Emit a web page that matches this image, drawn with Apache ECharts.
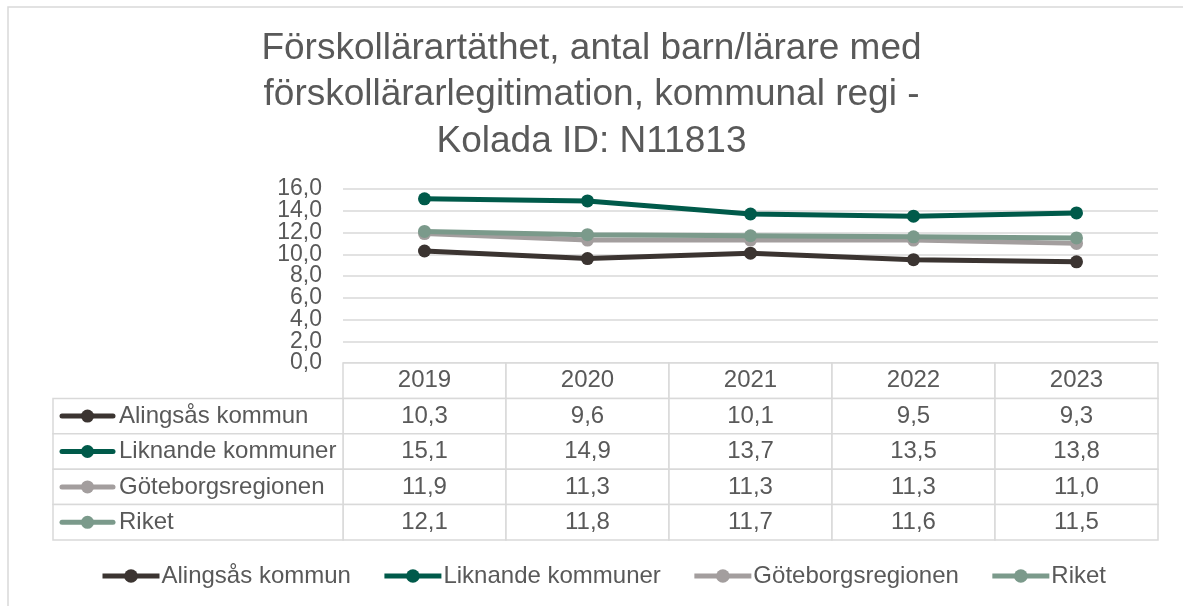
<!DOCTYPE html>
<html>
<head>
<meta charset="utf-8">
<script src="https://cdn.jsdelivr.net/npm/echarts@6/dist/echarts.min.js"></script>
<style>
html, body { margin: 0; padding: 0; background: #fff; }
#main { width: 1183px; height: 606px; }
</style>
</head>
<body>
<div id="main"></div>
<script>
// data
var years = ['2019', '2020', '2021', '2022', '2023'];
var seriesNames = ['Alingsås kommun', 'Liknande kommuner', 'Göteborgsregionen', 'Riket'];
var alingsas = [10.3, 9.6, 10.1, 9.5, 9.3];
var liknande = [15.1, 14.9, 13.7, 13.5, 13.8];
var goteborg = [11.9, 11.3, 11.3, 11.3, 11.0];
var riket = [12.1, 11.8, 11.7, 11.6, 11.5];
var yMin = 0, yMax = 16, yStep = 2;

var colors = ['#3B3431', '#005A4A', '#A39E9E', '#7B9A8B'];
var allValues = [alingsas, liknande, goteborg, riket];
var textColor = '#595959';
var lineColor = '#D9D9D9';
var fontFamily = '"Liberation Sans", Arial, sans-serif';
var font = '24px ' + fontFamily;
var labelWidth = 290;

function fmt(v) { return v.toFixed(1).replace('.', ','); }

var myChart = echarts.init(document.getElementById('main'));

// tabellens celler: [kolumn, rad]
var headerCells = years.map(function (y, i) { return [i, 0]; });
var valueCells = [];
var valueTexts = [];
allValues.forEach(function (arr, r) {
    arr.forEach(function (v, c) {
        valueCells.push([c, r + 1]);
        valueTexts.push(fmt(v));
    });
});
var labelCells = seriesNames.map(function (n, r) { return [0, r + 1]; });

function cell(api, text) {
    var c = api.coord([api.value(0), api.value(1)]);
    var s = api.size([1, 1]);
    return {
        type: 'group',
        children: [
            { type: 'rect', shape: { x: c[0] - s[0] / 2, y: c[1] - s[1] / 2, width: s[0], height: s[1] },
              style: { fill: '#fff', stroke: lineColor, lineWidth: 1.5 } },
            { type: 'text', x: c[0], y: c[1],
              style: { text: text, font: font, fill: textColor, align: 'center', verticalAlign: 'middle' } }
        ]
    };
}

var lineSeries = seriesNames.map(function (name, i) {
    return {
        name: name,
        type: 'line',
        data: allValues[i],
        symbol: 'circle',
        symbolSize: 13,
        color: colors[i],
        lineStyle: { width: 5, color: colors[i] },
        itemStyle: { color: colors[i] },
        z: 3 + i
    };
});

// etiketterna ligger tätt, så varannan etikett ritas av en andra y-axel
var labelStyle = { fontFamily: fontFamily, fontSize: 23, color: textColor, margin: 21 };

var option = {
    animation: false,
    backgroundColor: '#fff',
    title: {
        text: 'Förskollärartäthet, antal barn/lärare med\nförskollärarlegitimation, kommunal regi -\nKolada ID: N11813',
        left: 'center',
        top: 25,
        padding: [0, 0, 0, 11],
        textStyle: { fontFamily: fontFamily, fontSize: 37, fontWeight: 'normal', color: textColor, lineHeight: 46.6 }
    },
    graphic: [{
        type: 'rect',
        shape: { x: 8, y: 7, width: 1200, height: 700 },
        style: { fill: 'none', stroke: lineColor, lineWidth: 1.5 },
        silent: true
    }],
    legend: {
        data: seriesNames,
        bottom: 13,
        left: 95,
        padding: 5,
        itemWidth: 57,
        itemHeight: 17,
        itemGap: 31,
        lineStyle: { width: 5 },
        textStyle: { fontFamily: fontFamily, fontSize: 24, color: textColor, padding: [0, 0, 0, -3] }
    },
    grid: [
        { left: 343, right: 25, top: 189, bottom: 243 },
        { left: 343, right: 25, top: 363, bottom: 66 }
    ],
    xAxis: [
        { type: 'category', data: years, gridIndex: 0, boundaryGap: true,
          axisLine: { show: false }, axisTick: { show: false }, axisLabel: { show: false } },
        { type: 'category', data: years, gridIndex: 1,
          axisLine: { show: false }, axisTick: { show: false }, axisLabel: { show: false } }
    ],
    yAxis: [
        { type: 'value', gridIndex: 0, min: yMin, max: yMax, interval: yStep,
          axisLine: { show: false }, axisTick: { show: false },
          axisLabel: Object.assign({
              formatter: function (v) { return v % (2 * yStep) === 0 ? fmt(v) : ''; },
              showMinLabel: true, showMaxLabel: true
          }, labelStyle),
          splitLine: { lineStyle: { color: lineColor, width: 1.5 } } },
        { type: 'value', gridIndex: 0, position: 'left', min: yMin, max: yMax, interval: yStep,
          axisLine: { show: false }, axisTick: { show: false },
          axisLabel: Object.assign({
              formatter: function (v) { return v % (2 * yStep) !== 0 ? fmt(v) : ''; },
              showMinLabel: false, showMaxLabel: false
          }, labelStyle),
          splitLine: { show: false } },
        { type: 'category', gridIndex: 1, inverse: true, data: [''].concat(seriesNames),
          axisLine: { show: false }, axisTick: { show: false }, axisLabel: { show: false },
          splitLine: { show: false } }
    ],
    series: lineSeries.concat([
        {
            name: 'rubriker',
            type: 'custom',
            xAxisIndex: 1, yAxisIndex: 2,
            data: headerCells,
            silent: true,
            renderItem: function (params, api) { return cell(api, years[params.dataIndex]); }
        },
        {
            name: 'värden',
            type: 'custom',
            xAxisIndex: 1, yAxisIndex: 2,
            data: valueCells,
            silent: true,
            renderItem: function (params, api) { return cell(api, valueTexts[params.dataIndex]); }
        },
        {
            name: 'serienamn',
            type: 'custom',
            xAxisIndex: 1, yAxisIndex: 2,
            data: labelCells,
            silent: true,
            renderItem: function (params, api) {
                var idx = params.dataIndex;
                var c = api.coord([0, api.value(1)]);
                var s = api.size([1, 1]);
                var x1 = params.coordSys.x;
                var x0 = x1 - labelWidth;
                var cy = c[1];
                return {
                    type: 'group',
                    children: [
                        { type: 'rect', shape: { x: x0, y: cy - s[1] / 2, width: labelWidth, height: s[1] },
                          style: { fill: '#fff', stroke: lineColor, lineWidth: 1.5 } },
                        { type: 'line', shape: { x1: x0 + 9, y1: cy, x2: x0 + 60, y2: cy },
                          style: { stroke: colors[idx], lineWidth: 5, lineCap: 'round' } },
                        { type: 'circle', shape: { cx: x0 + 34.5, cy: cy, r: 6.5 },
                          style: { fill: colors[idx] } },
                        { type: 'text', x: x0 + 66, y: cy,
                          style: { text: seriesNames[idx], font: font, fill: textColor, align: 'left', verticalAlign: 'middle' } }
                    ]
                };
            }
        }
    ])
};

myChart.setOption(option);
</script>
</body>
</html>
